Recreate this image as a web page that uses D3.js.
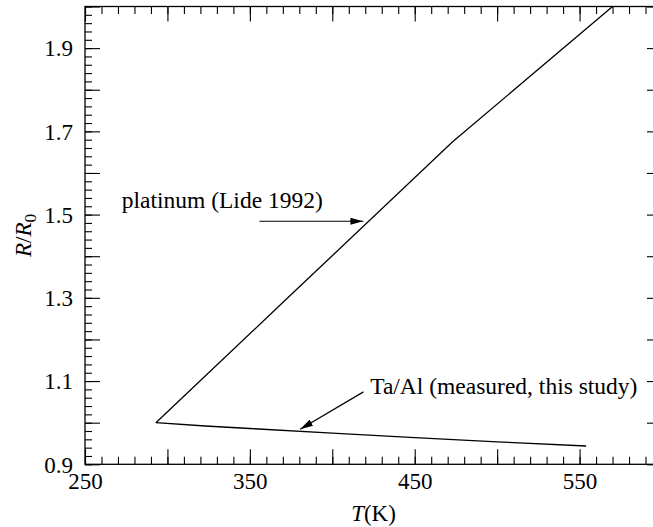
<!DOCTYPE html>
<html>
<head>
<meta charset="utf-8">
<script src="https://cdn.jsdelivr.net/npm/d3@7"></script>
<style>
  html, body { margin: 0; padding: 0; background: #fff; }
  svg { display: block; }
  text { font-family: "Liberation Serif", "Times New Roman", Times, serif; fill: #000; }
</style>
</head>
<body>
<svg id="chart" width="653" height="527"></svg>
<script>
// Resistance ratio R/R0 versus temperature
const platinumT = [293, 373, 473, 573];
const platinumR = [1.000, 1.300, 1.675, 2.010];

const taAlT = [293, 323, 350, 400, 450, 500, 554];
const taAlR = [1.000, 0.992, 0.986, 0.975, 0.964, 0.954, 0.944];

const xTickLabels = [250, 350, 450, 550];
const yTickLabels = [0.9, 1.1, 1.3, 1.5, 1.7, 1.9];

const xDomain = [250, 600];
const yDomain = [0.9, 2.0];

const platinumLabel = "platinum (Lide 1992)";
const taAlLabel = "Ta/Al (measured, this study)";

const svg = d3.select("#chart");
const FS = 23.5;

const x = d3.scaleLinear().domain(xDomain).range([85, 662]);
const y = d3.scaleLinear().domain(yDomain).range([464.3, 6.5]);

const plotL = x.range()[0], plotR = x.range()[1];
const plotT = y.range()[1], plotB = y.range()[0];

// tick values
const xMinor = d3.range(250, 601, 10);
const xMajor = d3.range(250, 601, 50);
const yMinor = d3.range(0, 56).map(i => +(0.9 + i * 0.02).toFixed(2));
const yMajor = d3.range(0, 12).map(i => +(0.9 + i * 0.1).toFixed(1));

function tickAxis(gen, vals, size) {
  return gen.tickValues(vals).tickSize(size).tickFormat("");
}

function styleAxis(g) {
  g.selectAll("path.domain").remove();
  g.selectAll(".tick line").attr("stroke", "#000").attr("stroke-width", 1.1);
}

// inward ticks on all four sides
[[xMinor, 7.5], [xMajor, 15]].forEach(([v, s]) => {
  svg.append("g").attr("transform", `translate(0,${plotB})`)
    .call(tickAxis(d3.axisBottom(x), v, -s)).call(styleAxis);
  svg.append("g").attr("transform", `translate(0,${plotT})`)
    .call(tickAxis(d3.axisTop(x), v, -s)).call(styleAxis);
});
[[yMinor, 7], [yMajor, 15]].forEach(([v, s]) => {
  svg.append("g").attr("transform", `translate(${plotL},0)`)
    .call(tickAxis(d3.axisLeft(y), v, -s)).call(styleAxis);
  svg.append("g").attr("transform", `translate(${plotR},0)`)
    .call(tickAxis(d3.axisRight(y), v, -s)).call(styleAxis);
});

// tick labels
const xLab = svg.append("g").attr("transform", `translate(0,${plotB})`)
  .call(d3.axisBottom(x).tickValues(xTickLabels).tickSize(0).tickPadding(8).tickFormat(d3.format("d")));
xLab.select("path.domain").remove();
xLab.selectAll("text").attr("font-size", 23).attr("font-family", null).attr("dy", "0.71em");

const yLab = svg.append("g").attr("transform", `translate(${plotL},0)`)
  .call(d3.axisLeft(y).tickValues(yTickLabels).tickSize(0).tickPadding(12).tickFormat(d3.format(".1f")));
yLab.select("path.domain").remove();
yLab.selectAll("text").attr("font-size", 23).attr("font-family", null).attr("dy", "0.34em");

// frame
svg.append("rect")
  .attr("x", plotL).attr("y", plotT)
  .attr("width", plotR - plotL).attr("height", plotB - plotT)
  .attr("fill", "none").attr("stroke", "#000").attr("stroke-width", 1.3);

// clip region for the curves
svg.append("clipPath").attr("id", "plotClip")
  .append("rect").attr("x", plotL).attr("y", plotT)
  .attr("width", plotR - plotL).attr("height", plotB - plotT);

const line = d3.line().x(d => x(d[0])).y(d => y(d[1]));

svg.append("path")
  .datum(platinumT.map((t, i) => [t, platinumR[i]]))
  .attr("clip-path", "url(#plotClip)")
  .attr("d", line).attr("fill", "none").attr("stroke", "#000").attr("stroke-width", 1.3);

svg.append("path")
  .datum(taAlT.map((t, i) => [t, taAlR[i]]))
  .attr("clip-path", "url(#plotClip)")
  .attr("d", line).attr("fill", "none").attr("stroke", "#000").attr("stroke-width", 1.3);

// arrow marker
svg.append("defs").append("marker")
  .attr("id", "arrowHead")
  .attr("markerUnits", "userSpaceOnUse")
  .attr("viewBox", "0 0 13 8")
  .attr("refX", 13).attr("refY", 4)
  .attr("markerWidth", 13).attr("markerHeight", 8)
  .attr("orient", "auto")
  .append("path").attr("d", "M0,0.5 L13,4 L0,7.5 Z").attr("fill", "#000");

// annotations (data coordinates)
const annotations = [
  { text: platinumLabel, tx: 272.3, ty: 1.515, from: [355.8, 1.484], to: [418.9, 1.484] },
  { text: taAlLabel, tx: 423.0, ty: 1.070, from: [418.9, 1.074], to: [380.5, 0.984] }
];

annotations.forEach(a => {
  svg.append("text")
    .attr("x", x(a.tx)).attr("y", y(a.ty))
    .attr("font-size", FS)
    .text(a.text);
  svg.append("line")
    .attr("x1", x(a.from[0])).attr("y1", y(a.from[1]))
    .attr("x2", x(a.to[0])).attr("y2", y(a.to[1]))
    .attr("stroke", "#000").attr("stroke-width", 1.2)
    .attr("marker-end", "url(#arrowHead)");
});

// axis titles
const xt = svg.append("text")
  .attr("x", (plotL + plotR) / 2).attr("y", 521)
  .attr("text-anchor", "middle").attr("font-size", 23);
xt.append("tspan").attr("font-style", "italic").text("T");
xt.append("tspan").text("(K)");

const yt = svg.append("text")
  .attr("transform", `translate(31,${(plotT + plotB) / 2}) rotate(-90)`)
  .attr("text-anchor", "middle").attr("font-size", 23);
yt.append("tspan").attr("font-style", "italic").text("R");
yt.append("tspan").text("/");
yt.append("tspan").attr("font-style", "italic").text("R");
yt.append("tspan").attr("font-size", 23 * 0.75).attr("dy", "0.3em").text("0");
</script>
</body>
</html>
